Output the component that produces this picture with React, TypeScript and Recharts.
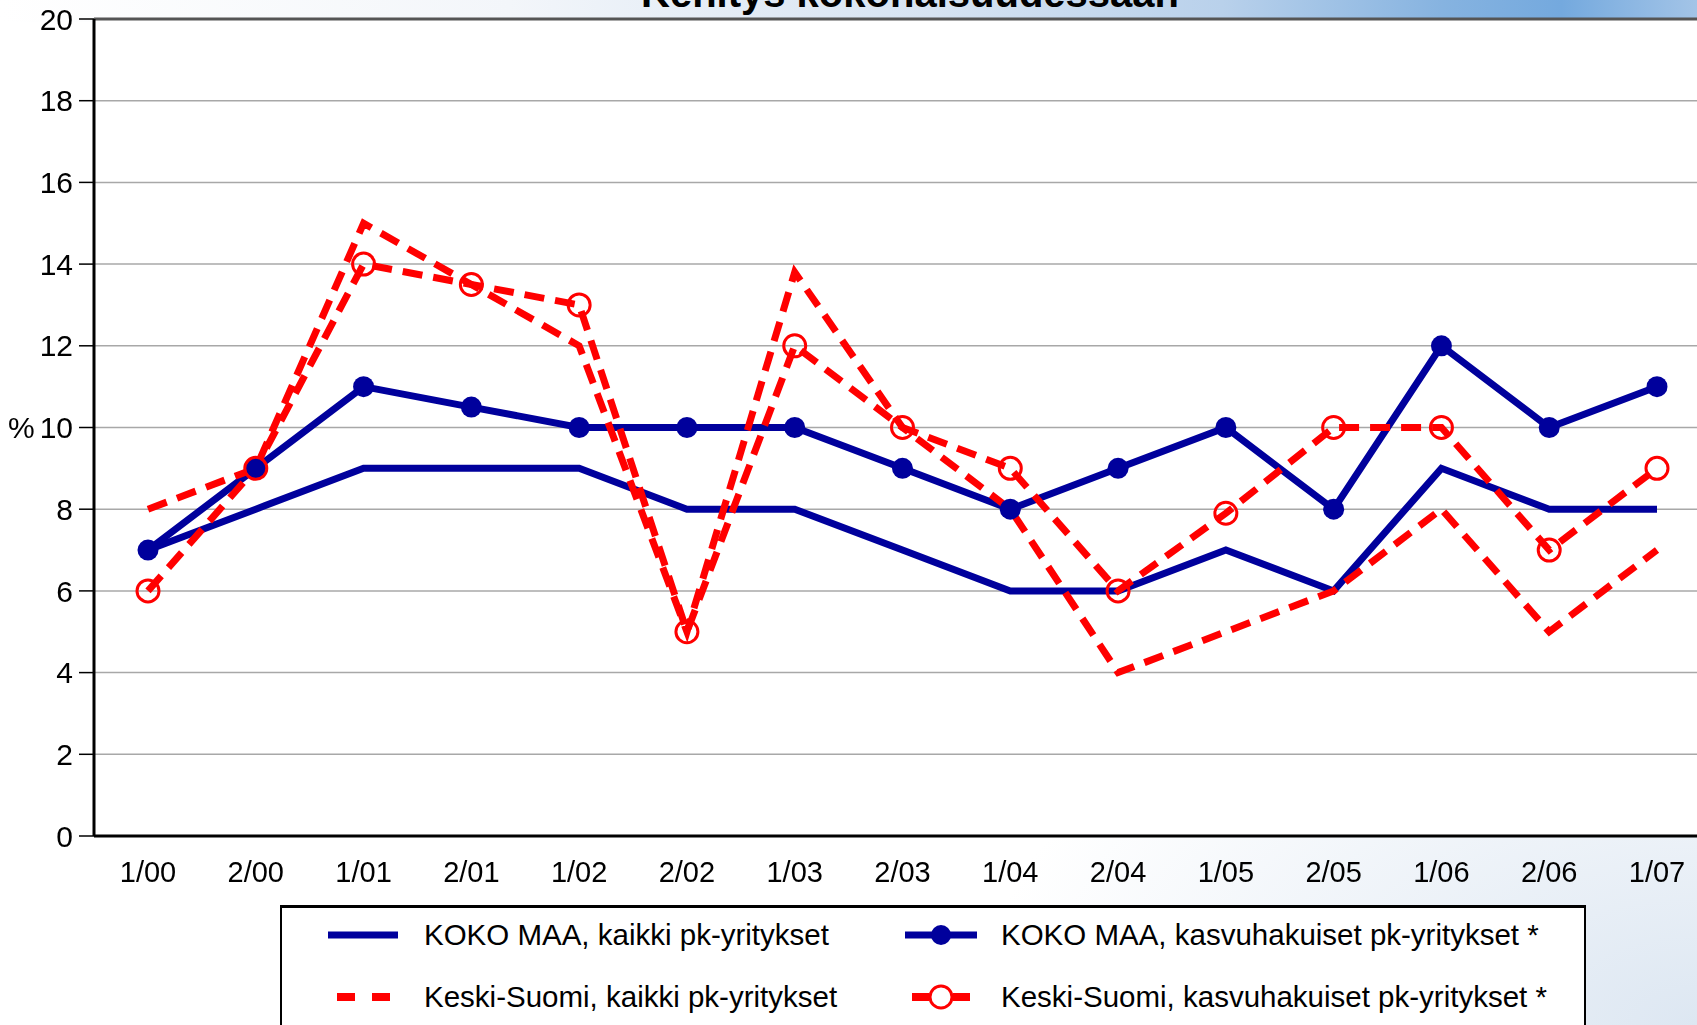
import { LineChart, Line, XAxis, YAxis, CartesianGrid, ReferenceLine } from 'recharts';

const periods = ['1/00', '2/00', '1/01', '2/01', '1/02', '2/02', '1/03', '2/03', '1/04', '2/04', '1/05', '2/05', '1/06', '2/06', '1/07'];
const kokoKaikki = [7, 8, 9, 9, 9, 8, 8, 7, 6, 6, 7, 6, 9, 8, 8];
const kokoKasvu = [7, 9, 11, 10.5, 10, 10, 10, 9, 8, 9, 10, 8, 12, 10, 11];
const ksKaikki = [8, 9, 15, 13.5, 12, 5, 13.8, 10, 8, 4, 5, 6, 8, 5, 7];
const ksKasvu = [6, 9, 14, 13.5, 13, 5, 12, 10, 9, 6, 7.9, 10, 10, 7, 9];
const yTicks = [0, 2, 4, 6, 8, 10, 12, 14, 16, 18, 20];

const seriesNames = [
  'KOKO MAA, kaikki pk-yritykset',
  'KOKO MAA, kasvuhakuiset pk-yritykset *',
  'Keski-Suomi, kaikki pk-yritykset',
  'Keski-Suomi, kasvuhakuiset pk-yritykset *',
];

const BLUE = '#00009c';
const RED = '#ff0000';
const FONT = 'Arial, "Liberation Sans", Helvetica, sans-serif';
const DASH = '20 11';

const data = periods.map((p, i) => ({
  period: p,
  kokoKaikki: kokoKaikki[i],
  kokoKasvu: kokoKasvu[i],
  ksKaikki: ksKaikki[i],
  ksKasvu: ksKasvu[i],
}));

const blueDot = (props: any) => (
  <circle key={`bd-${props.index}`} cx={props.cx} cy={props.cy} r={10.5} fill={BLUE} stroke="none" />
);

const redRing = (props: any) => (
  <circle key={`rr-${props.index}`} cx={props.cx} cy={props.cy} r={11} fill="none" stroke={RED} strokeWidth={3} />
);

// legend icons, drawn like the Excel legend keys
function LegendIcon({ kind }: { kind: number }) {
  return (
    <svg width={72} height={26} style={{ display: 'block' }}>
      {kind === 0 && <line x1={0} y1={13} x2={70} y2={13} stroke={BLUE} strokeWidth={7} />}
      {kind === 1 && (
        <>
          <line x1={0} y1={13} x2={72} y2={13} stroke={BLUE} strokeWidth={7} />
          <circle cx={36} cy={13} r={10} fill={BLUE} />
        </>
      )}
      {kind === 2 && (
        <>
          <rect x={9} y={9} width={18} height={8} fill={RED} />
          <rect x={44} y={9} width={18} height={8} fill={RED} />
        </>
      )}
      {kind === 3 && (
        <>
          <rect x={7} y={9} width={17} height={8} fill={RED} />
          <rect x={48} y={9} width={17} height={8} fill={RED} />
          <circle cx={36} cy={13} r={11} fill="white" stroke={RED} strokeWidth={3} />
        </>
      )}
    </svg>
  );
}

const legendPos = [
  { left: 328, top: 935 },
  { left: 905, top: 935 },
  { left: 328, top: 997 },
  { left: 905, top: 997 },
];

export default function App() {
  return (
    <div
      style={{
        position: 'fixed',
        left: 0,
        top: 0,
        width: 1697,
        height: 1025,
        overflow: 'hidden',
        background: 'radial-gradient(ellipse at 100% 100%, #dde7f2 0%, #ffffff 30%)',
        fontFamily: FONT,
      }}
    >
      <div
        style={{
          position: 'absolute',
          left: 0,
          top: 0,
          width: 1697,
          height: 22,
          background:
            'linear-gradient(to right, #ffffff 0%, #f3f6fa 30%, #d6e3f2 55%, #b9d1eb 72%, #86b3e0 85%, #74a9de 92%, #a3c4e7 100%)',
        }}
      />
      <div
        style={{
          position: 'absolute',
          left: 0,
          width: 1820,
          top: -27,
          textAlign: 'center',
          fontSize: 40,
          lineHeight: '40px',
          fontWeight: 'bold',
          whiteSpace: 'nowrap',
          color: '#000',
        }}
      >
        Kehitys kokonaisuudessaan
      </div>

      <div style={{ position: 'absolute', left: 0, top: 0 }}>
        <LineChart width={1720} height={1025} data={data} margin={{ top: 19, right: 9, bottom: 0, left: 0 }}>
          <CartesianGrid vertical={false} stroke="#a8a8a8" strokeWidth={1.5} fill="#ffffff" />
          <XAxis
            dataKey="period"
            height={189}
            padding={{ left: 54, right: 54 }}
            axisLine={{ stroke: '#000', strokeWidth: 3 }}
            tickLine={false}
            tickMargin={19}
            interval={0}
            tick={{ fontSize: 29, fill: '#000', fontFamily: FONT }}
          />
          <YAxis
            width={94}
            domain={[0, 20]}
            ticks={yTicks}
            interval={0}
            axisLine={{ stroke: '#000', strokeWidth: 3 }}
            tickLine={{ stroke: '#000', strokeWidth: 1.5 }}
            tickSize={15}
            tickMargin={6}
            tick={{ fontSize: 30, fill: '#000', fontFamily: FONT }}
            label={{ value: '%', position: 'insideLeft', offset: 8, fontSize: 30, fill: '#000', fontFamily: FONT }}
          />
          <ReferenceLine y={20} stroke="#555" strokeWidth={3} />
          <Line
            name={seriesNames[0]}
            type="linear"
            dataKey="kokoKaikki"
            stroke={BLUE}
            strokeWidth={7}
            dot={false}
            isAnimationActive={false}
          />
          <Line
            name={seriesNames[1]}
            type="linear"
            dataKey="kokoKasvu"
            stroke={BLUE}
            strokeWidth={7}
            dot={blueDot}
            isAnimationActive={false}
          />
          <Line
            name={seriesNames[2]}
            type="linear"
            dataKey="ksKaikki"
            stroke={RED}
            strokeWidth={7}
            strokeDasharray={DASH}
            dot={false}
            isAnimationActive={false}
          />
          <Line
            name={seriesNames[3]}
            type="linear"
            dataKey="ksKasvu"
            stroke={RED}
            strokeWidth={7}
            strokeDasharray={DASH}
            dot={redRing}
            isAnimationActive={false}
          />
        </LineChart>
      </div>

      {/* legend box, cut by the bottom edge like in the original */}
      <div
        style={{
          position: 'absolute',
          left: 280,
          top: 905,
          width: 1302,
          height: 160,
          border: '2px solid #000',
          borderTopWidth: 3,
          background: '#fff',
        }}
      />
      {seriesNames.map((name, i) => (
        <div
          key={name}
          style={{
            position: 'absolute',
            left: legendPos[i].left,
            top: legendPos[i].top - 13,
            height: 26,
            display: 'flex',
            alignItems: 'center',
            whiteSpace: 'nowrap',
          }}
        >
          <LegendIcon kind={i} />
          <span style={{ marginLeft: 24, fontSize: 29.5, color: '#000', lineHeight: '26px' }}>{name}</span>
        </div>
      ))}
    </div>
  );
}
